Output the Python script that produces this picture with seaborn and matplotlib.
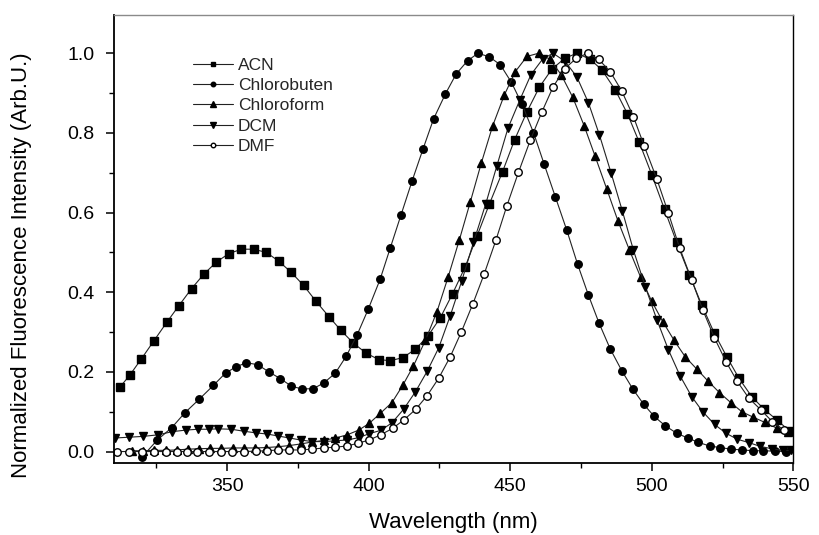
import matplotlib
matplotlib.use("Agg")
import matplotlib.pyplot as plt
from matplotlib.ticker import MultipleLocator, FormatStrFormatter
import seaborn as sns

# Normalized emission spectra of the dye in five solvents (wavelength in nm)
acn_x = [312.0, 315.5, 319.7, 324.1, 328.6, 332.9, 337.4, 341.7, 346.2, 350.6,
         355.0, 359.3, 363.8, 368.2, 372.6, 377.0, 381.4, 385.9, 390.2, 394.6,
         399.1, 403.5, 407.6, 412.1, 416.5, 420.9, 425.3, 429.6, 434.1, 438.2,
         442.6, 447.3, 451.5, 455.9, 460.3, 464.7, 469.2, 473.5, 478.2, 482.4,
         487.1, 491.4, 495.6, 500.0, 504.5, 508.8, 513.3, 517.7, 522.1, 526.5,
         530.8, 535.3, 539.7, 544.1, 548.6]
acn_y = [0.161, 0.191, 0.233, 0.278, 0.324, 0.366, 0.409, 0.445, 0.476, 0.497,
         0.508, 0.508, 0.500, 0.478, 0.450, 0.417, 0.377, 0.339, 0.304, 0.272,
         0.247, 0.231, 0.228, 0.236, 0.257, 0.290, 0.336, 0.396, 0.464, 0.540,
         0.621, 0.703, 0.782, 0.853, 0.915, 0.960, 0.987, 1.000, 0.985, 0.958,
         0.908, 0.848, 0.776, 0.695, 0.608, 0.525, 0.444, 0.367, 0.297, 0.238,
         0.184, 0.138, 0.106, 0.080, 0.052]

chlorobuten_x = [320.0, 325.3, 330.4, 335.0, 340.2, 345.1, 349.4, 353.2, 356.8, 360.8,
                 364.7, 368.8, 372.7, 376.5, 380.4, 384.1, 388.2, 392.1, 395.9, 399.8,
                 404.0, 407.6, 411.4, 415.3, 419.2, 422.9, 427.1, 430.9, 434.9, 438.6,
                 442.6, 446.5, 450.4, 454.1, 458.2, 462.0, 465.9, 470.0, 473.8, 477.6,
                 481.4, 485.3, 489.4, 493.3, 497.1, 500.9, 504.7, 508.8, 512.7, 516.5,
                 520.4, 524.1, 528.0, 532.0, 535.7, 539.4, 543.5, 547.4]
chlorobuten_y = [-0.013, 0.029, 0.060, 0.097, 0.132, 0.166, 0.197, 0.213, 0.223, 0.218,
                 0.200, 0.183, 0.164, 0.157, 0.158, 0.172, 0.197, 0.240, 0.293, 0.357,
                 0.432, 0.511, 0.594, 0.679, 0.760, 0.835, 0.898, 0.948, 0.981, 1.000,
                 0.991, 0.971, 0.927, 0.873, 0.801, 0.721, 0.640, 0.555, 0.470, 0.393,
                 0.322, 0.258, 0.203, 0.157, 0.119, 0.088, 0.065, 0.046, 0.034, 0.023,
                 0.014, 0.010, 0.006, 0.004, 0.002, 0.002, 0.001, 0.000]

chloroform_x = [316.3, 320.3, 324.2, 328.2, 332.1, 336.1, 340.0, 344.0, 347.9, 351.9,
                355.8, 359.8, 363.7, 367.8, 371.9, 375.9, 380.0, 384.1, 388.2, 392.4,
                396.5, 400.2, 404.1, 408.2, 412.0, 415.8, 420.0, 424.1, 428.0, 432.0,
                435.9, 439.8, 443.8, 447.9, 451.8, 455.9, 460.0, 464.0, 468.0, 472.1,
                476.1, 480.0, 484.1, 488.0, 492.1, 496.1, 500.0, 503.9, 507.9, 511.8,
                515.9, 520.0, 523.9, 527.9, 531.8, 535.9, 540.0, 544.1, 548.2]
chloroform_y = [0.002, 0.002, 0.003, 0.003, 0.004, 0.006, 0.007, 0.008, 0.008, 0.009,
                0.009, 0.009, 0.010, 0.012, 0.015, 0.019, 0.024, 0.028, 0.034, 0.042,
                0.054, 0.071, 0.096, 0.123, 0.166, 0.215, 0.279, 0.351, 0.437, 0.531,
                0.627, 0.725, 0.818, 0.895, 0.954, 0.992, 1.000, 0.985, 0.946, 0.889,
                0.818, 0.741, 0.659, 0.580, 0.506, 0.437, 0.377, 0.326, 0.279, 0.238,
                0.207, 0.176, 0.148, 0.123, 0.100, 0.086, 0.073, 0.059, 0.050]

dcm_x = [310.3, 315.3, 320.2, 325.6, 330.6, 335.6, 339.6, 343.5, 346.7, 351.4,
         355.9, 360.0, 364.1, 368.0, 372.0, 375.9, 380.0, 384.1, 388.2, 392.4,
         396.5, 400.2, 404.2, 408.2, 412.3, 416.5, 420.6, 424.7, 428.8, 432.8,
         437.0, 441.3, 445.3, 449.2, 453.4, 457.3, 461.4, 465.1, 469.3, 473.5,
         477.6, 481.5, 485.6, 489.6, 493.5, 497.7, 501.8, 505.9, 510.0, 514.1,
         518.0, 522.2, 526.2, 530.2, 534.5, 538.3, 542.4, 546.2, 549.2]
dcm_y = [0.034, 0.036, 0.038, 0.042, 0.050, 0.054, 0.056, 0.056, 0.057, 0.056,
         0.051, 0.047, 0.044, 0.039, 0.034, 0.029, 0.025, 0.025, 0.027, 0.029,
         0.035, 0.045, 0.053, 0.072, 0.106, 0.150, 0.201, 0.260, 0.341, 0.427,
         0.525, 0.621, 0.718, 0.812, 0.883, 0.946, 0.985, 1.000, 0.980, 0.941,
         0.876, 0.795, 0.700, 0.604, 0.506, 0.414, 0.331, 0.255, 0.190, 0.138,
         0.100, 0.068, 0.046, 0.031, 0.022, 0.013, 0.007, 0.003, 0.003]

dmf_x = [311.2, 315.3, 320.0, 324.1, 328.3, 332.4, 335.9, 339.5, 343.6, 347.7,
         351.8, 355.9, 360.1, 364.1, 368.0, 372.0, 375.9, 380.0, 384.1, 388.2,
         392.4, 396.2, 400.2, 404.2, 408.4, 412.5, 416.6, 420.6, 424.7, 428.8,
         432.7, 436.8, 440.8, 444.9, 448.8, 452.9, 457.1, 461.2, 465.1, 469.2,
         473.3, 477.3, 481.2, 485.3, 489.4, 493.5, 497.4, 501.8, 505.9, 509.8,
         514.1, 518.0, 522.1, 526.2, 530.2, 534.3, 538.5, 542.6, 546.7]
dmf_y = [0.000, 0.000, 0.000, 0.000, 0.000, 0.000, 0.000, 0.000, 0.000, 0.000,
         0.000, 0.000, 0.001, 0.002, 0.004, 0.004, 0.004, 0.006, 0.009, 0.011,
         0.014, 0.021, 0.029, 0.042, 0.058, 0.080, 0.106, 0.140, 0.184, 0.238,
         0.300, 0.371, 0.446, 0.530, 0.617, 0.701, 0.782, 0.853, 0.915, 0.961,
         0.987, 1.000, 0.985, 0.954, 0.905, 0.841, 0.766, 0.684, 0.598, 0.512,
         0.431, 0.356, 0.286, 0.226, 0.176, 0.134, 0.105, 0.075, 0.054]

solvents = ["ACN", "Chlorobuten", "Chloroform", "DCM", "DMF"]

sns.set_theme(style="ticks")
plt.rcParams["font.family"] = ["Liberation Sans", "DejaVu Sans"]

fig = plt.figure(figsize=(8.2, 5.35), dpi=100)
ax = fig.add_axes([114 / 820, 1 - 462.7 / 535, 679.3 / 820, 447.7 / 535])
ax.set_facecolor("white")

styles = [
    (acn_x, acn_y, "s", "black", 5.2),
    (chlorobuten_x, chlorobuten_y, "o", "black", 5.4),
    (chloroform_x, chloroform_y, "^", "black", 6.4),
    (dcm_x, dcm_y, "v", "black", 6.4),
    (dmf_x, dmf_y, "o", "white", 5.4),
]
for name, (xs, ys, mk, face, ms) in zip(solvents, styles):
    sns.lineplot(x=xs, y=ys, ax=ax, label=name, color="#222222", linewidth=0.8,
                 marker=mk, markersize=ms, markerfacecolor=face,
                 markeredgecolor="black", markeredgewidth=1.0,
                 estimator=None, sort=False)

ax.set_xlim(310, 550)
ax.set_ylim(-0.028, 1.096)
ax.xaxis.set_major_locator(MultipleLocator(50))
ax.xaxis.set_minor_locator(MultipleLocator(25))
ax.yaxis.set_major_locator(MultipleLocator(0.2))
ax.yaxis.set_minor_locator(MultipleLocator(0.1))
ax.yaxis.set_major_formatter(FormatStrFormatter("%.1f"))

ax.tick_params(which="major", direction="out", length=6, width=1.1,
               labelsize=14, colors="black", pad=5)
ax.tick_params(which="minor", direction="out", length=3.8, width=1.0, colors="black")
ax.tick_params(axis="y", which="major", pad=8)
ax.tick_params(top=False, right=False, which="both")

for side in ["left", "bottom"]:
    ax.spines[side].set_linewidth(1.3)
    ax.spines[side].set_color("black")
ax.spines["right"].set_linewidth(1.0)
ax.spines["right"].set_color("black")
ax.spines["top"].set_linewidth(1.0)
ax.spines["top"].set_color("#8a8a8a")

ax.set_xlabel("Wavelength (nm)", fontsize=16, color="black")
ax.xaxis.set_label_coords(0.499, -0.11)
ax.set_ylabel("Normalized Fluorescence Intensity (Arb.U.)", fontsize=16, color="black")
ax.yaxis.set_label_coords(-0.121, 0.4416)

ax.legend(loc="upper left", bbox_to_anchor=(0.116, 0.905), frameon=False,
          fontsize=12.5, handlelength=2.3, handletextpad=0.3, labelspacing=0.3,
          markerscale=0.6, borderpad=0, borderaxespad=0)

fig.savefig("out.png", dpi=100, facecolor="white")
